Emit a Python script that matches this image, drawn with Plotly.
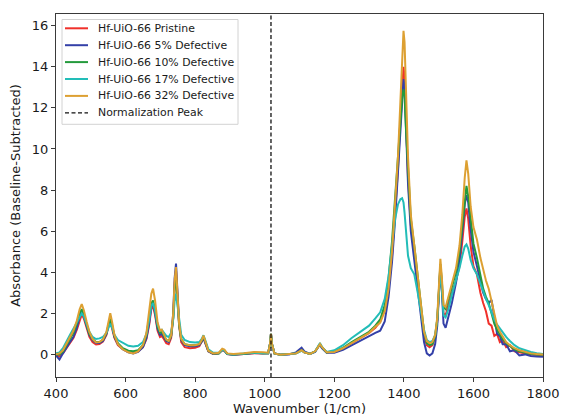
import plotly.graph_objects as go

# Wavenumber grid shared by all spectra (cm^-1)
wavenumber = [
    400, 410, 420, 430, 440, 450, 460, 468, 474, 480,
    488, 496, 505, 515, 525, 535, 545, 551, 556, 561,
    568, 578, 592, 608, 622, 636, 650, 660, 668, 674,
    679, 685, 692, 699, 704, 710, 717, 724, 731, 737,
    741, 745, 749, 754, 760, 770, 785, 800, 812, 819,
    824, 829, 838, 852, 868, 878, 884, 892, 910, 940,
    970, 995, 1010, 1015, 1018, 1021, 1028, 1045, 1070, 1090,
    1100, 1106, 1114, 1130, 1145, 1154, 1159, 1165, 1178, 1200,
    1225, 1250, 1275, 1300, 1318, 1332, 1345, 1356, 1366, 1375,
    1383, 1390, 1395, 1399, 1402, 1406, 1412, 1420, 1430, 1440,
    1450, 1458, 1466, 1474, 1482, 1490, 1496, 1501, 1505, 1509,
    1514, 1520, 1528, 1538, 1550, 1560, 1568, 1575, 1580, 1585,
    1592, 1600, 1610, 1620, 1628, 1636, 1644, 1652, 1660, 1668,
    1676, 1684, 1694, 1705, 1718, 1732, 1748, 1765, 1782, 1800,
]

pristine = [
    -0.05, -0.1, 0.05, 0.3, 0.55, 0.8, 1.2, 1.7, 1.95, 1.75,
    1.25, 0.85, 0.6, 0.48, 0.5, 0.62, 0.95, 1.4, 1.6, 1.3,
    0.8, 0.45, 0.25, 0.12, 0.1, 0.15, 0.35, 0.75, 1.45, 2.2,
    2.35, 1.9, 1.15, 0.85, 0.9, 0.75, 0.55, 0.5, 0.8, 1.8,
    3.4, 4.1, 3.0, 1.4, 0.6, 0.35, 0.3, 0.32, 0.4, 0.6,
    0.8, 0.55, 0.15, 0.02, 0.05, 0.2, 0.18, 0.02, -0.02, 0.02,
    0.06, 0.05, 0.06, 0.5, 1.0, 0.5, 0.05, -0.02, 0.0, 0.05,
    0.15, 0.2, 0.1, 0.02, 0.15, 0.4, 0.48, 0.32, 0.1, 0.12,
    0.3, 0.55, 0.8, 1.05, 1.3, 1.6, 2.2, 3.3, 4.8, 6.8,
    9.0, 11.5, 13.2, 14.0, 13.5, 11.5, 8.6, 6.3, 4.8, 3.5,
    1.9, 0.9, 0.45, 0.35, 0.45, 0.85, 1.6, 3.2, 4.3, 3.4,
    2.0, 1.9, 2.4, 3.0, 3.6, 4.3, 5.5, 6.7, 7.1, 6.6,
    5.3, 4.3, 3.9, 3.0, 2.5, 2.1, 1.5, 1.4, 0.9, 1.0,
    0.6, 0.7, 0.35, 0.45, 0.15, 0.1, 0.05, 0.0, -0.02, -0.05,
]

defective_5 = [
    -0.05, -0.25, 0.05, 0.35, 0.6, 0.85, 1.3, 1.85, 2.1, 1.85,
    1.35, 0.95, 0.7, 0.55, 0.55, 0.65, 1.0, 1.5, 1.75, 1.4,
    0.85, 0.5, 0.25, 0.1, 0.05, 0.12, 0.35, 0.8, 1.55, 2.35,
    2.5, 2.0, 1.25, 0.95, 1.0, 0.85, 0.65, 0.6, 0.9, 2.0,
    3.7, 4.42, 3.2, 1.5, 0.7, 0.45, 0.4, 0.4, 0.45, 0.62,
    0.82, 0.55, 0.15, 0.02, 0.05, 0.22, 0.18, 0.02, -0.02, 0.02,
    0.07, 0.06, 0.06, 0.5, 1.0, 0.5, 0.05, -0.02, 0.0, 0.1,
    0.25, 0.33, 0.15, 0.02, 0.12, 0.38, 0.45, 0.3, 0.08, 0.08,
    0.22, 0.45, 0.65, 0.9, 1.05, 1.15, 1.6, 2.8, 4.5, 6.6,
    8.8, 11.0, 12.7, 13.4, 13.0, 11.0, 8.3, 6.0, 4.6, 3.1,
    1.6, 0.6, 0.05, -0.05, 0.05, 0.5, 1.4, 3.1, 4.2, 3.2,
    1.5, 1.3, 1.8, 2.5, 3.5, 4.6, 6.0, 7.3, 7.75, 7.4,
    6.1, 5.0, 4.3, 3.5, 3.0, 2.7, 2.5, 2.65, 1.7, 1.0,
    0.9, 0.5, 0.5, 0.15, 0.2, -0.05, 0.0, -0.08, -0.1, -0.12,
]

defective_10 = [
    0.0, 0.0, 0.15, 0.45, 0.75, 1.05, 1.5, 2.0, 2.2, 1.95,
    1.45, 1.0, 0.75, 0.6, 0.6, 0.72, 1.05, 1.5, 1.75, 1.45,
    0.9, 0.55, 0.3, 0.18, 0.15, 0.2, 0.45, 0.95, 1.75, 2.5,
    2.62, 2.15, 1.35, 1.05, 1.1, 0.9, 0.7, 0.65, 0.9, 1.8,
    3.2, 3.8, 2.8, 1.4, 0.75, 0.5, 0.45, 0.45, 0.5, 0.68,
    0.88, 0.6, 0.18, 0.05, 0.05, 0.22, 0.2, 0.03, 0.0, 0.03,
    0.08, 0.06, 0.06, 0.5, 1.0, 0.5, 0.05, -0.02, 0.0, 0.05,
    0.15, 0.2, 0.1, 0.02, 0.15, 0.4, 0.5, 0.35, 0.1, 0.15,
    0.32, 0.6, 0.85, 1.1, 1.4, 1.7, 2.4, 3.7, 5.5, 7.6,
    9.7, 11.5, 12.5, 12.9, 12.6, 11.0, 8.8, 6.6, 5.3, 3.8,
    2.2, 1.1, 0.55, 0.45, 0.5, 0.9, 1.7, 3.3, 4.4, 3.6,
    2.3, 2.2, 2.7, 3.3, 4.0, 5.0, 6.4, 7.7, 8.2, 7.7,
    6.5, 5.4, 4.7, 3.8, 3.2, 2.8, 2.5, 2.0, 1.5, 1.2,
    0.95, 0.75, 0.55, 0.4, 0.25, 0.15, 0.08, 0.03, 0.0, -0.02,
]

defective_17 = [
    0.05, 0.1, 0.3, 0.65, 0.95, 1.25, 1.55, 1.85, 2.0, 1.85,
    1.45, 1.1, 0.85, 0.75, 0.78, 0.85, 1.05, 1.35, 1.5, 1.3,
    0.95, 0.7, 0.55, 0.42, 0.38, 0.42, 0.6, 1.0, 1.7, 2.35,
    2.5, 2.1, 1.45, 1.15, 1.2, 1.05, 0.9, 0.85, 1.05, 1.7,
    2.6, 2.95, 2.4, 1.5, 0.95, 0.7, 0.6, 0.58, 0.6, 0.75,
    0.93, 0.7, 0.25, 0.08, 0.08, 0.22, 0.2, 0.03, 0.0, 0.04,
    0.08, 0.06, 0.06, 0.5, 1.0, 0.5, 0.05, -0.02, 0.0, 0.05,
    0.12, 0.18, 0.1, 0.02, 0.15, 0.42, 0.55, 0.35, 0.12, 0.2,
    0.45, 0.8, 1.1, 1.4, 1.75, 2.05, 2.7, 3.8, 5.3, 6.6,
    7.3, 7.55, 7.6, 7.4, 6.9, 5.9, 4.8, 4.2, 3.9, 3.0,
    2.0, 1.2, 0.7, 0.6, 0.65, 0.95, 1.7, 3.2, 4.1, 3.3,
    1.9, 1.8, 2.2, 2.9, 3.6, 4.2, 4.8, 5.25, 5.35, 5.15,
    4.6, 4.2, 3.9, 3.4, 3.0, 2.7, 2.4, 2.0, 1.7, 1.45,
    1.25, 1.05, 0.85, 0.65, 0.45, 0.3, 0.2, 0.12, 0.06, 0.02,
]

defective_32 = [
    0.0, 0.05, 0.2, 0.5, 0.8, 1.15, 1.65, 2.2, 2.45, 2.15,
    1.6, 1.1, 0.75, 0.58, 0.6, 0.72, 1.1, 1.65, 2.0, 1.6,
    0.95, 0.5, 0.25, 0.1, 0.05, 0.15, 0.45, 1.05, 2.0, 2.95,
    3.2, 2.6, 1.55, 1.15, 1.2, 0.95, 0.72, 0.65, 0.95, 2.0,
    3.6, 4.25, 3.1, 1.5, 0.75, 0.5, 0.45, 0.45, 0.5, 0.7,
    0.92, 0.62, 0.18, 0.05, 0.08, 0.28, 0.24, 0.05, 0.02, 0.06,
    0.12, 0.1, 0.08, 0.5, 1.0, 0.5, 0.05, -0.02, 0.0, 0.05,
    0.15, 0.2, 0.1, 0.02, 0.15, 0.4, 0.5, 0.35, 0.1, 0.12,
    0.3, 0.55, 0.8, 1.05, 1.35, 1.55, 2.1, 3.2, 5.0, 7.2,
    9.6, 12.3, 14.5, 15.75, 15.2, 12.8, 9.6, 6.8, 5.3, 3.7,
    2.1, 1.1, 0.65, 0.55, 0.6, 0.95, 1.8, 3.5, 4.65, 3.8,
    2.4, 2.3, 2.8, 3.4, 4.2, 5.3, 6.8, 8.6, 9.45, 8.8,
    7.2, 6.2, 5.6, 4.7, 4.1, 3.6, 3.2, 2.6, 1.9, 1.4,
    1.1, 0.85, 0.6, 0.45, 0.3, 0.2, 0.12, 0.05, 0.02, 0.0,
]

series_names = [
    "Hf-UiO-66 Pristine",
    "Hf-UiO-66 5% Defective",
    "Hf-UiO-66 10% Defective",
    "Hf-UiO-66 17% Defective",
    "Hf-UiO-66 32% Defective",
]
series_values = [pristine, defective_5, defective_10, defective_17, defective_32]
series_colors = ["#f0302a", "#3440a8", "#249a3c", "#22bdb8", "#dda032"]

normalization_label = "Normalization Peak"
normalization_peak = 1018
x_range = [400, 1800]
y_range = [-1.1, 16.57]
x_ticks = [400, 600, 800, 1000, 1200, 1400, 1600, 1800]
y_ticks = [0, 2, 4, 6, 8, 10, 12, 14, 16]

font_family = "DejaVu Sans"
text_color = "#1a1a1a"
axis_color = "#3a3a3a"
dash_style = "4px,2.5px"

# Figure / plot-area geometry in pixels
W, H = 562, 418
M_L, M_R, M_T, M_B = 56, 19, 14, 41
PW, PH = W - M_L - M_R, H - M_T - M_B


def px_x(px):
    """Horizontal pixel offset from the figure's left edge -> paper fraction."""
    return (px - M_L) / PW


def px_y(py):
    """Vertical pixel offset from the figure's top edge -> paper fraction."""
    return (H - M_B - py) / PH


fig = go.Figure()

for name, values, color in zip(series_names, series_values, series_colors):
    fig.add_trace(go.Scatter(
        x=wavenumber, y=values, mode="lines", name=name,
        line=dict(color=color, width=2), showlegend=False,
    ))

fig.add_trace(go.Scatter(
    x=[normalization_peak, normalization_peak], y=y_range,
    mode="lines", name=normalization_label, showlegend=False,
    line=dict(color="#111111", width=1.3, dash=dash_style),
))

# Legend box drawn in the upper-left corner of the axes
legend_left, legend_top, legend_right = 62, 19.5, 238
row_first, row_step = 28.3, 16.9
sample_x0, sample_x1, text_x = 65, 88, 95.5
legend_entries = list(zip(series_names, series_colors, ["solid"] * 5))
legend_entries.append((normalization_label, "#111111", dash_style))
legend_bottom = row_first + row_step * (len(legend_entries) - 1) + 11.5

shapes = [dict(
    type="rect", xref="paper", yref="paper", layer="above",
    x0=px_x(legend_left), x1=px_x(legend_right),
    y0=px_y(legend_bottom), y1=px_y(legend_top),
    line=dict(color="#d2d2d2", width=1),
    fillcolor="rgba(255,255,255,0.85)",
)]
annotations = []
for i, (label, color, dash) in enumerate(legend_entries):
    cy = row_first + i * row_step
    shapes.append(dict(
        type="line", xref="paper", yref="paper", layer="above",
        x0=px_x(sample_x0), x1=px_x(sample_x1), y0=px_y(cy), y1=px_y(cy),
        line=dict(color=color, width=2 if dash == "solid" else 1.3, dash=dash),
    ))
    annotations.append(dict(
        xref="paper", yref="paper", x=px_x(text_x), y=px_y(cy),
        xanchor="left", yanchor="middle", showarrow=False, text=label,
        font=dict(family=font_family, size=10.9, color=text_color),
    ))

axis_common = dict(
    showline=True, linecolor=axis_color, linewidth=1.2, mirror=True,
    ticks="outside", ticklen=4, tickwidth=1, tickcolor=axis_color,
    showgrid=False, zeroline=False, automargin=False,
    tickfont=dict(family=font_family, size=13, color=text_color),
)

fig.update_layout(
    width=W, height=H,
    margin=dict(l=M_L, r=M_R, t=M_T, b=M_B),
    paper_bgcolor="white", plot_bgcolor="white",
    font=dict(family=font_family, size=13, color=text_color),
    showlegend=False,
    shapes=shapes,
    annotations=annotations,
    xaxis=dict(
        range=x_range, tickvals=x_ticks,
        title=dict(text="Wavenumber (1/cm)", standoff=4,
                   font=dict(family=font_family, size=13)),
        **axis_common,
    ),
    yaxis=dict(
        range=y_range, tickvals=y_ticks,
        title=dict(text="Absorbance (Baseline-Subtracted)", standoff=8,
                   font=dict(family=font_family, size=13)),
        **axis_common,
    ),
)

fig.write_html("out.html")
